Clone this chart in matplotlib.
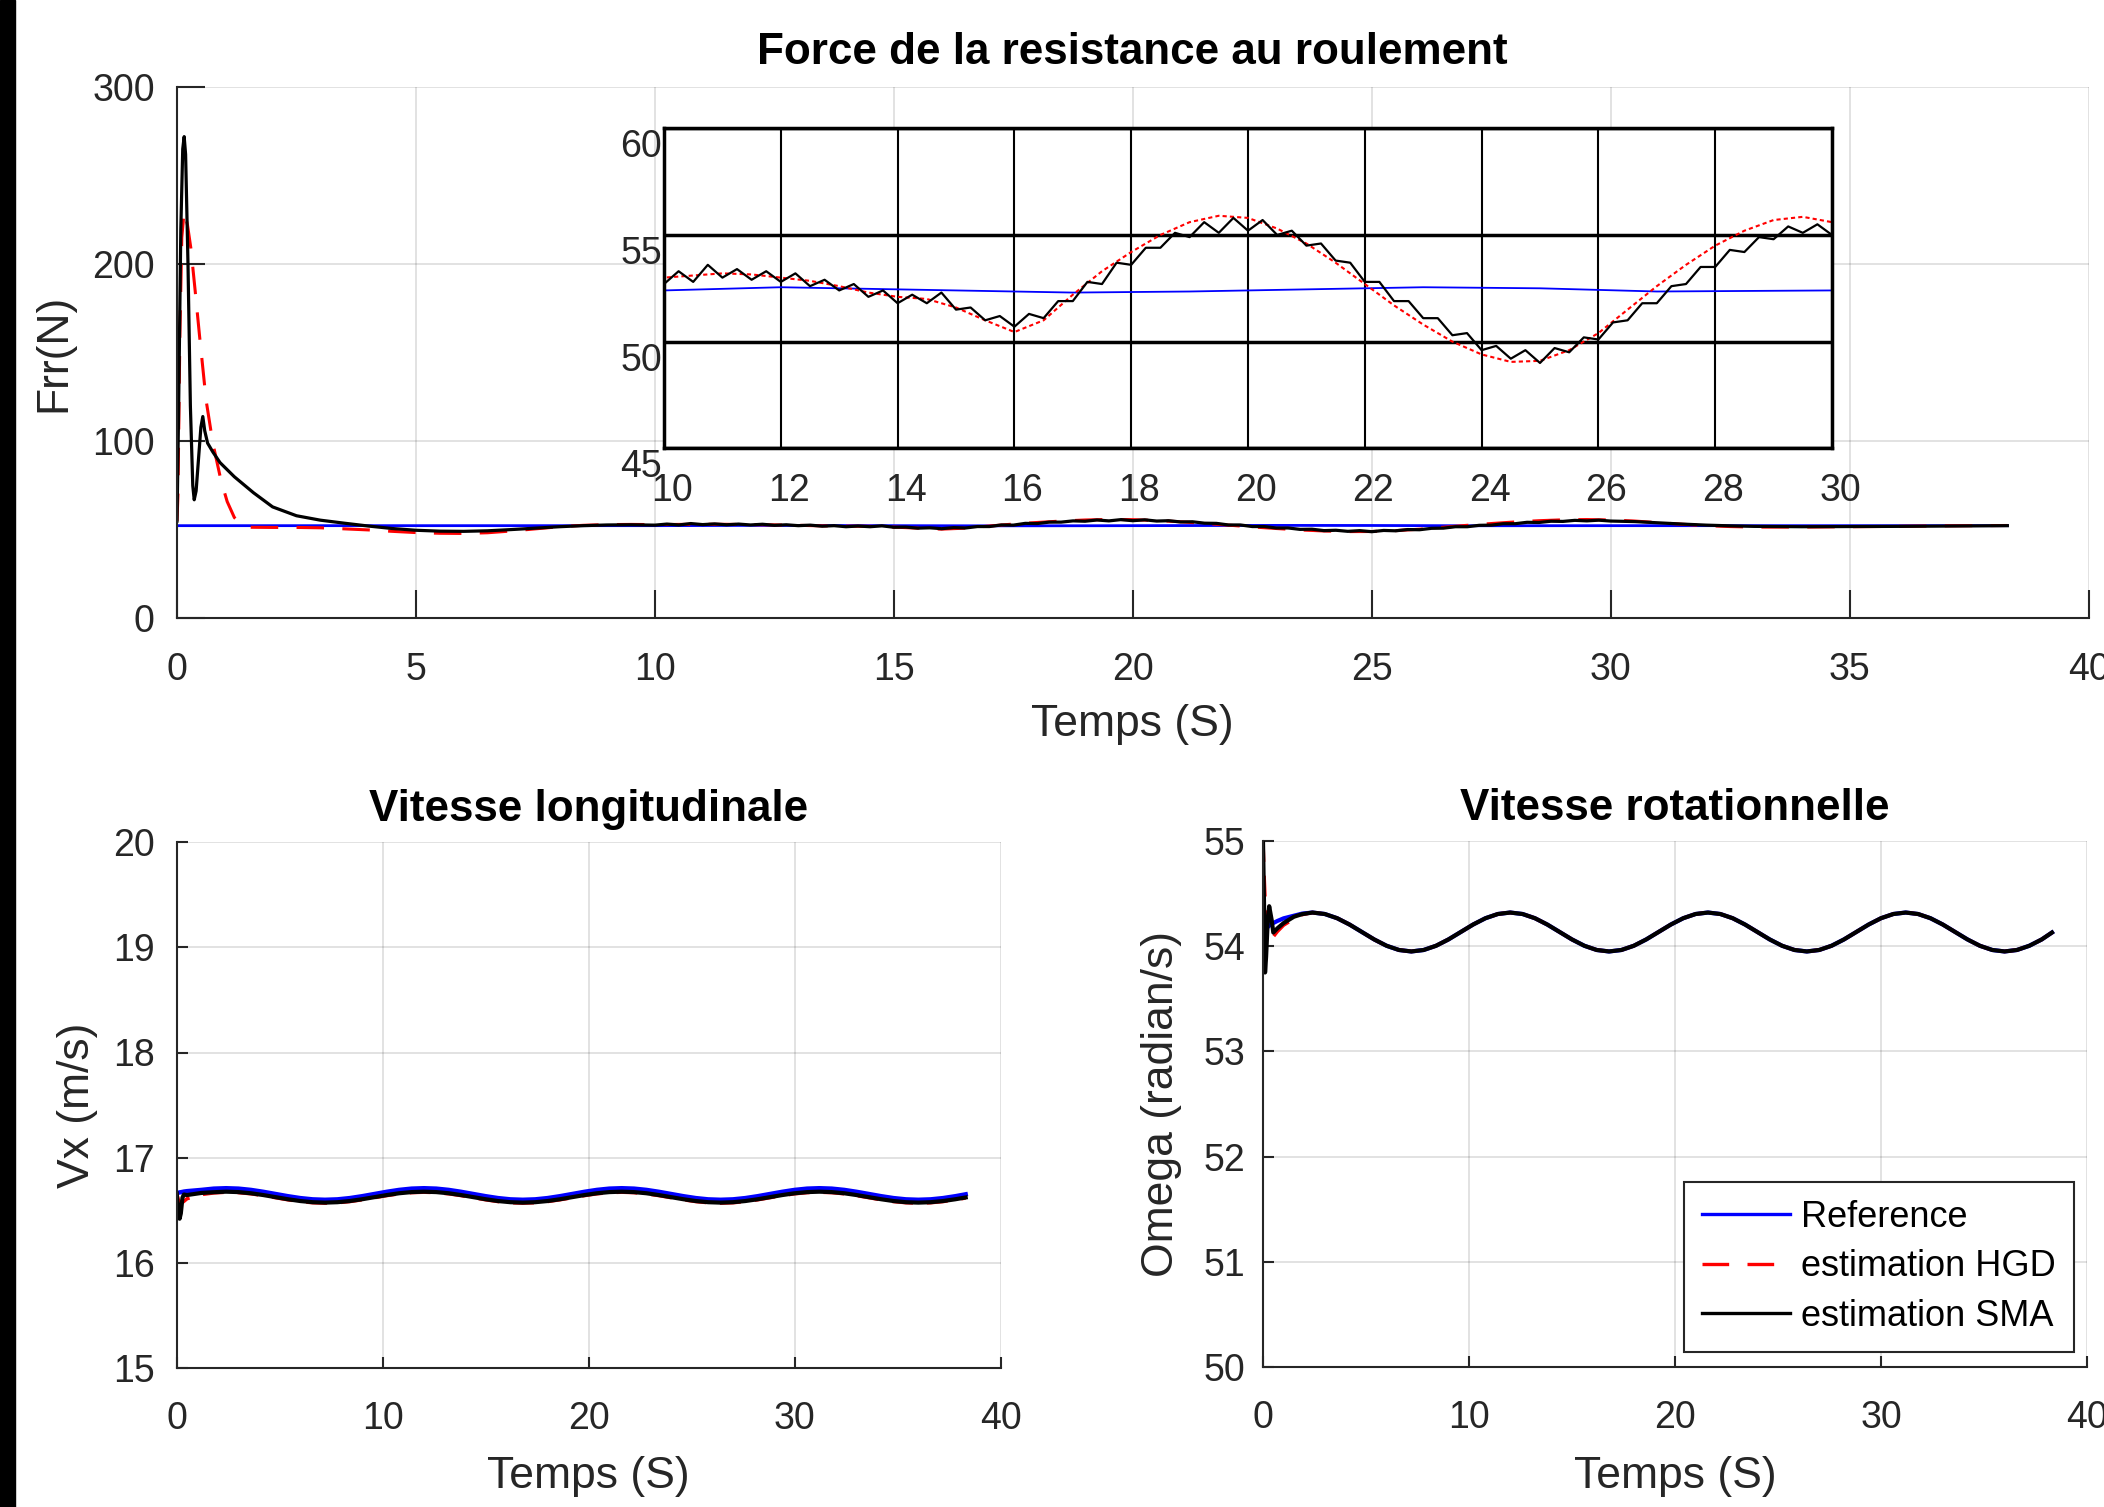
import matplotlib.pyplot as plt
from matplotlib import transforms
from matplotlib.patches import Rectangle

plt.rcParams['font.family'] = ['Liberation Sans', 'DejaVu Sans']

# ---------------- data ----------------
# Frr (N) : reference / HGD estimate / SMA estimate
t_frr_ref = [0, 2, 4, 6, 8, 10, 12, 13, 15, 17, 19, 21, 23, 25, 27, 30, 33, 36, 38.3]
frr_ref = [52.4, 52.4, 52.4, 52.4, 52.4, 52.4, 52.55, 52.5, 52.4, 52.3, 52.35,
           52.45, 52.55, 52.5, 52.35, 52.4, 52.4, 52.4, 52.4]

t_frr_hgd = [0, 0.02, 0.06, 0.1, 0.15, 0.22, 0.29, 0.38, 0.47, 0.61, 0.75, 0.92,
             1.05, 1.2, 1.35, 1.5, 2.0, 2.5, 3.0, 3.5, 4.0, 4.5, 5.0, 5.5, 6.0,
             6.5, 7.0, 7.5, 8.0, 8.5, 9.0, 9.5,
             10, 10.5, 11, 11.5, 12, 12.5, 13, 13.5, 14, 14.5, 15, 15.5, 16, 16.5,
             17, 17.5, 18, 18.5, 19, 19.5, 20, 20.5, 21, 21.5, 22, 22.5, 23, 23.5,
             24, 24.5, 25, 25.5, 26, 26.5, 27, 27.5, 28, 28.5, 29, 29.5, 30,
             30.5, 31, 31.5, 32, 32.5, 33, 34, 35, 36, 37, 38.3]
frr_hgd = [55, 70, 160, 215, 230, 222, 209, 185, 160, 123, 99, 78,
           66, 57, 53, 51.5, 51.4, 51.4, 51.2, 50.6, 50.0, 49.2, 48.5, 48.1, 48.0,
           48.4, 49.4, 50.6, 51.8, 52.6, 53.0, 53.1,
           53.0, 53.1, 53.2, 53.15, 53.0, 52.85, 52.6, 52.3, 52.1, 52.0, 51.6, 51.0, 50.45, 51.0,
           52.2, 53.3, 54.2, 55.0, 55.6, 55.9, 55.8, 55.3, 54.6, 53.7, 52.7, 51.7, 50.8, 50.0,
           49.4, 49.05, 49.1, 49.6, 50.4, 51.5, 52.6, 53.6, 54.5, 55.2, 55.7, 55.85, 55.6,
           55.0, 54.1, 53.2, 52.4, 51.9, 51.6, 51.6, 51.8, 52.0, 52.3, 52.5]

t_frr_sma_start = [0, 0.03, 0.08, 0.12, 0.15, 0.18, 0.23, 0.28, 0.33, 0.36, 0.40,
                   0.45, 0.50, 0.54, 0.58, 0.64, 0.75, 0.9, 1.2, 1.6, 2.0, 2.5,
                   3.0, 3.5, 4.0, 4.5, 5.0, 5.5, 6.0, 6.5, 7.0, 7.5, 8.0, 8.5, 9.0, 9.5]
frr_sma_start = [55, 110, 220, 265, 272, 262, 200, 120, 75, 67, 72,
                 90, 108, 114, 106, 99, 94, 88, 80, 71, 63, 58,
                 55.5, 53.8, 52.2, 50.8, 49.8, 49.3, 49.2, 49.5, 50.2, 51.0, 51.8, 52.4, 52.8, 52.9]
# noisy part, sampled every 0.25 s from 10 s to 30 s
t_frr_sma_mid = [10 + 0.25 * i for i in range(81)]
frr_sma_mid = [52.7, 53.3, 52.8, 53.6, 53.0, 53.4, 52.9, 53.3, 52.8, 53.2,
               52.6, 52.9, 52.4, 52.7, 52.1, 52.4, 51.8, 52.2, 51.8, 52.3,
               51.5, 51.6, 51.0, 51.2, 50.7, 51.3, 51.1, 51.9, 51.9, 52.8,
               52.7, 53.7, 53.6, 54.4, 54.4, 55.1, 54.9, 55.6, 55.1, 55.8,
               55.2, 55.7, 55.0, 55.2, 54.5, 54.6, 53.8, 53.7, 52.8, 52.8,
               51.9, 51.9, 51.1, 51.1, 50.3, 50.4, 49.6, 49.8, 49.2, 49.6,
               49.0, 49.7, 49.5, 50.2, 50.1, 50.9, 51.0, 51.8, 51.8, 52.6,
               52.7, 53.5, 53.5, 54.3, 54.2, 54.9, 54.8, 55.4, 55.1, 55.5,
               55.0]
t_frr_sma_end = [30.5, 31, 31.5, 32, 32.5, 33, 34, 35, 36, 37, 38.3]
frr_sma_end = [54.7, 54.0, 53.3, 52.7, 52.3, 52.0, 51.8, 51.9, 52.0, 52.2, 52.4]

t_frr_sma = t_frr_sma_start + t_frr_sma_mid + t_frr_sma_end
frr_sma = frr_sma_start + frr_sma_mid + frr_sma_end

# speeds: start-up samples, then the steady oscillation read every 0.6 s
t_wave = [round(2.4 + 0.6 * i, 1) for i in range(60)] + [38.3]

# Vx (m/s)
t_vx = [0, 0.08, 0.14, 0.2, 0.28, 0.35, 0.5, 1.2, 1.8] + t_wave
vx_ref = [16.665, 16.667, 16.67, 16.672, 16.675, 16.678, 16.682, 16.694, 16.706,
          16.71, 16.706, 16.694, 16.676, 16.655, 16.634, 16.616, 16.604,
          16.60, 16.604, 16.616, 16.634, 16.655, 16.676, 16.694, 16.706,
          16.71, 16.706, 16.694, 16.676, 16.655, 16.634, 16.616, 16.604,
          16.60, 16.604, 16.616, 16.634, 16.655, 16.676, 16.694, 16.706,
          16.71, 16.706, 16.694, 16.676, 16.655, 16.634, 16.616, 16.604,
          16.60, 16.604, 16.616, 16.634, 16.655, 16.676, 16.694, 16.706,
          16.71, 16.706, 16.694, 16.676, 16.655, 16.634, 16.616, 16.604,
          16.60, 16.604, 16.616, 16.634, 16.652]
vx_hgd = [16.66, 16.60, 16.58, 16.57, 16.575, 16.585, 16.61, 16.65, 16.665,
          16.672, 16.668, 16.657, 16.64, 16.62, 16.60, 16.583, 16.572,
          16.568, 16.572, 16.583, 16.60, 16.62, 16.64, 16.657, 16.668,
          16.672, 16.668, 16.657, 16.64, 16.62, 16.60, 16.583, 16.572,
          16.568, 16.572, 16.583, 16.60, 16.62, 16.64, 16.657, 16.668,
          16.672, 16.668, 16.657, 16.64, 16.62, 16.60, 16.583, 16.572,
          16.568, 16.572, 16.583, 16.60, 16.62, 16.64, 16.657, 16.668,
          16.672, 16.668, 16.657, 16.64, 16.62, 16.60, 16.583, 16.572,
          16.568, 16.572, 16.583, 16.60, 16.617]
vx_sma = [16.66, 16.50, 16.42, 16.47, 16.62, 16.65, 16.645, 16.665, 16.672,
          16.677, 16.673, 16.662, 16.645, 16.625, 16.605, 16.588, 16.577,
          16.573, 16.577, 16.588, 16.605, 16.625, 16.645, 16.662, 16.673,
          16.677, 16.673, 16.662, 16.645, 16.625, 16.605, 16.588, 16.577,
          16.573, 16.577, 16.588, 16.605, 16.625, 16.645, 16.662, 16.673,
          16.677, 16.673, 16.662, 16.645, 16.625, 16.605, 16.588, 16.577,
          16.573, 16.577, 16.588, 16.605, 16.625, 16.645, 16.662, 16.673,
          16.677, 16.673, 16.662, 16.645, 16.625, 16.605, 16.588, 16.577,
          16.573, 16.577, 16.588, 16.605, 16.622]

# Omega (rad/s)
t_om = [0, 0.05, 0.1, 0.15, 0.22, 0.3, 0.42, 0.5, 0.7, 1.0, 1.5, 1.9] + t_wave
om_wave = [54.32, 54.306, 54.266, 54.206, 54.135, 54.064, 54.004, 53.964,
           53.95, 53.964, 54.004, 54.064, 54.135, 54.206, 54.266, 54.306,
           54.32, 54.306, 54.266, 54.206, 54.135, 54.064, 54.004, 53.964,
           53.95, 53.964, 54.004, 54.064, 54.135, 54.206, 54.266, 54.306,
           54.32, 54.306, 54.266, 54.206, 54.135, 54.064, 54.004, 53.964,
           53.95, 53.964, 54.004, 54.064, 54.135, 54.206, 54.266, 54.306,
           54.32, 54.306, 54.266, 54.206, 54.135, 54.064, 54.004, 53.964,
           53.95, 53.964, 54.004, 54.064, 54.13]
om_ref = [54.135, 54.145, 54.155, 54.165, 54.18, 54.195, 54.21, 54.22, 54.24,
          54.265, 54.29, 54.31] + om_wave
om_hgd = [55.0, 54.7, 54.45, 54.25, 54.12, 54.07, 54.07, 54.09, 54.14,
          54.2, 54.26, 54.30] + om_wave
om_sma = [55.0, 54.4, 53.75, 53.9, 54.2, 54.38, 54.25, 54.13, 54.17,
          54.22, 54.28, 54.305] + om_wave

labels = ['Reference', 'estimation HGD', 'estimation SMA']

# ---------------- figure ----------------
W, H = 2104, 1507
fig = plt.figure(figsize=(W / 100, H / 100), dpi=100)
fig.add_artist(Rectangle((0, 0), 15 / W, 1, transform=fig.transFigure,
                         color='black', zorder=10))

GREY = '#262626'


def box(x0, x1, ytop, ybot):
    return [x0 / W, 1 - ybot / H, (x1 - x0) / W, (ybot - ytop) / H]


def matlab_style(ax, ticklen, ypad, xpad=24):
    for s in ['top', 'right']:
        ax.spines[s].set_visible(False)
    for s in ['left', 'bottom']:
        ax.spines[s].set_color(GREY)
        ax.spines[s].set_linewidth(1.5)
    ax.tick_params(direction='in', length=ticklen, width=1.5, colors=GREY,
                   labelsize=27)
    ax.tick_params(axis='x', pad=xpad)
    ax.tick_params(axis='y', pad=ypad)
    ax.grid(True, color=GREY, alpha=0.15, linewidth=1.3)
    ax.set_axisbelow(True)


# --- top: rolling resistance force ---
ax = fig.add_axes(box(177, 2088.6, 87, 618.5))
ax.plot(t_frr_ref, frr_ref, color='blue', lw=2.0)
ax.plot(t_frr_hgd, frr_hgd, color='red', lw=2.2, dashes=(9, 6))
ax.plot(t_frr_sma, frr_sma, color='black', lw=2.3)
ax.set_xlim(0, 40)
ax.set_ylim(0, 300)
ax.set_xticks(range(0, 41, 5))
ax.set_yticks([0, 100, 200, 300])
matlab_style(ax, 20, 16)
ax.set_title('Force de la resistance au roulement', fontsize=31.7,
             fontweight='bold', y=1 + 34 / 531.5, va='center', pad=0)
ax.set_xlabel('Temps (S)', fontsize=32, color=GREY, va='center')
ax.xaxis.set_label_coords(0.5, -106.5 / 531.5)
ax.set_ylabel('Frr(N)', fontsize=32, color=GREY, va='center')
ax.yaxis.set_label_coords((54 - 177) / 1911.6, 0.5)

# --- zoom inset ---
axi = fig.add_axes(box(664, 1832, 128.3, 448.3))
axi.plot(t_frr_ref, frr_ref, color='blue', lw=1.3)
axi.plot(t_frr_hgd, frr_hgd, color='red', lw=1.5, dashes=(2, 1.5))
axi.plot(t_frr_sma, frr_sma, color='black', lw=1.6)
axi.set_xlim(10, 30)
axi.set_ylim(45, 60)
axi.set_xticks(range(10, 31, 2))
axi.set_yticks([45, 50, 55, 60])
for s in axi.spines.values():
    s.set_color('black')
    s.set_linewidth(2.5)
axi.tick_params(length=0, labelsize=27, colors=GREY, pad=7)
axi.grid(True, axis='x', color='black', lw=1.5)
axi.grid(True, axis='y', color='black', lw=2.5)
axi.set_axisbelow(True)
shift = transforms.ScaledTranslation(8 / 100, -15 / 100, fig.dpi_scale_trans)
for lbl in axi.get_xticklabels() + axi.get_yticklabels():
    lbl.set_transform(lbl.get_transform() + shift)

# --- bottom left: longitudinal speed ---
ax2 = fig.add_axes(box(176.7, 1000.7, 842.1, 1368.1))
ax2.plot(t_vx, vx_ref, color='blue', lw=3.2)
ax2.plot(t_vx, vx_hgd, color='red', lw=2.5, dashes=(6, 4))
ax2.plot(t_vx, vx_sma, color='black', lw=3.0)
ax2.set_xlim(0, 40)
ax2.set_ylim(15, 20)
ax2.set_xticks(range(0, 41, 10))
ax2.set_yticks(range(15, 21))
matlab_style(ax2, 8, 16)
ax2.set_title('Vitesse longitudinale', fontsize=31.7, fontweight='bold',
              y=1 + 33 / 526, va='center', pad=0)
ax2.set_xlabel('Temps (S)', fontsize=32, color=GREY, va='center')
ax2.xaxis.set_label_coords(0.5, -108.5 / 526)
ax2.set_ylabel('Vx (m/s)', fontsize=32, color=GREY, va='center')
ax2.yaxis.set_label_coords((78 - 176.7) / 824, 0.5)

# --- bottom right: rotational speed ---
ax3 = fig.add_axes(box(1263, 2087, 841, 1367))
ax3.plot(t_om, om_ref, color='blue', lw=3.0)
ax3.plot(t_om, om_hgd, color='red', lw=2.5, dashes=(6, 4))
ax3.plot(t_om, om_sma, color='black', lw=3.0)
ax3.set_xlim(0, 40)
ax3.set_ylim(50, 55)
ax3.set_xticks(range(0, 41, 10))
ax3.set_yticks(range(50, 56))
matlab_style(ax3, 8, 13)
ax3.set_title('Vitesse rotationnelle', fontsize=31.7, fontweight='bold',
              y=1 + 33 / 526, va='center', pad=0)
ax3.set_xlabel('Temps (S)', fontsize=32, color=GREY, va='center')
ax3.xaxis.set_label_coords(0.5, -109.5 / 526)
ax3.set_ylabel('Omega (radian/s)', fontsize=32, color=GREY, va='center')
ax3.yaxis.set_label_coords((1162 - 1263) / 824, 0.5)

# legend handles drawn like the matlab legend
h_ref, = ax3.plot([], [], color='blue', lw=2.4)
h_hgd, = ax3.plot([], [], color='red', lw=2.4, dashes=(8, 5.5))
h_sma, = ax3.plot([], [], color='black', lw=2.4)
leg = ax3.legend([h_ref, h_hgd, h_sma], labels, loc='upper right',
                 bbox_to_anchor=(0.984, 0.352), borderaxespad=0, fontsize=26,
                 handlelength=2.45, handletextpad=0.3, borderpad=0.5,
                 labelspacing=0.4, fancybox=False, framealpha=1)
leg.get_frame().set_edgecolor(GREY)
leg.get_frame().set_linewidth(1.5)

fig.savefig('out.png', dpi=100)
